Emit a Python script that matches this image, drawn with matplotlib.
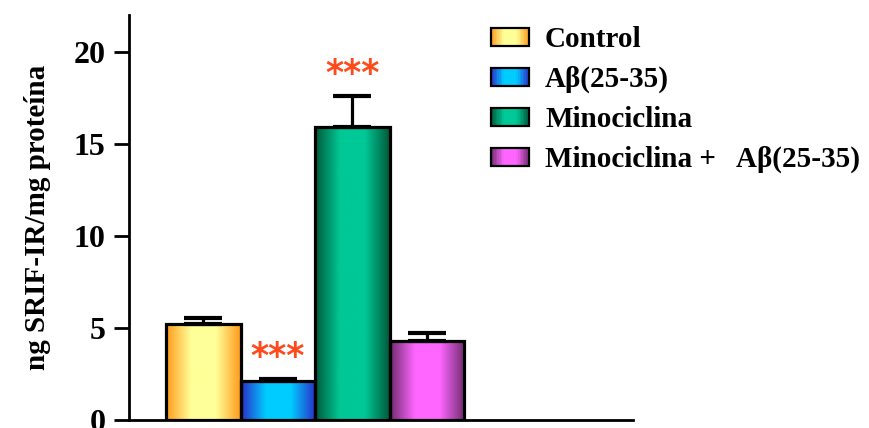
import numpy as np
import matplotlib
matplotlib.use("Agg")
import matplotlib.pyplot as plt
from matplotlib.colors import LinearSegmentedColormap
from matplotlib.patches import Rectangle
from matplotlib.legend_handler import HandlerBase

# SRIF-IR content per group
groups = ["Control", "Aβ(25-35)", "Minociclina", "Minociclina +   Aβ(25-35)"]
means = [5.2, 2.1, 15.9, 4.3]
sems = [0.35, 0.1, 1.7, 0.4]
signif = ["", "***", "***", ""]

# edge / centre colours of the horizontal shading on each bar
edge_cols = ["#ff9a1a", "#2c2cc8", "#00583a", "#6e2c6e"]
mid_cols = ["#ffff99", "#00ccff", "#00c896", "#ff66ff"]

plt.rcParams["font.family"] = ["Liberation Serif", "DejaVu Serif"]
plt.rcParams["font.weight"] = "bold"


def shade_cmap(c0, c1):
    return LinearSegmentedColormap.from_list("s", [c0, c1, c1, c0], N=256)


fig = plt.figure(figsize=(8.69, 4.28), dpi=100)
ax = fig.add_axes([0.1484, 0.0187, 0.58, 0.9463])

x = np.arange(len(means))
bars = ax.bar(x, means, width=1.0, color="none", edgecolor="black",
              linewidth=2.3, zorder=3)

grad = np.linspace(0, 1, 256).reshape(1, -1)
for b, c0, c1 in zip(bars, edge_cols, mid_cols):
    x0, w, h = b.get_x(), b.get_width(), b.get_height()
    im = ax.imshow(grad, cmap=shade_cmap(c0, c1), aspect="auto",
                   extent=[x0, x0 + w, 0, h], zorder=2)
    im.set_clip_path(b)

ax.errorbar(x, means, yerr=[np.zeros(len(sems)), sems], fmt="none",
            ecolor="black", elinewidth=2.3, capsize=13.5, capthick=3, zorder=4)

for xi, m, s, lab in zip(x, means, sems, signif):
    if lab:
        ax.text(xi, m + s + 1.2, lab, ha="center", va="center",
                color="#ff4a1c", fontsize=25, fontweight="bold",
                family="DejaVu Sans")

ax.set_xlim(-1.0, 5.77)
ax.set_ylim(0, 22)
ax.set_yticks([0, 5, 10, 15, 20])
ax.set_xticks([])
ax.tick_params(axis="y", length=11, width=2, labelsize=23, pad=6)
for t in ax.get_yticklabels():
    t.set_fontweight("bold")
for side in ["top", "right"]:
    ax.spines[side].set_visible(False)
for side in ["left", "bottom"]:
    ax.spines[side].set_linewidth(2)
ax.spines["left"].set_zorder(5)
ax.spines["bottom"].set_zorder(5)
ax.set_ylabel("ng SRIF-IR/mg proteína", fontsize=21, fontweight="bold",
              labelpad=16)


class ShadedHandle:
    def __init__(self, c0, c1):
        self.c0, self.c1 = c0, c1


class ShadedHandler(HandlerBase):
    def create_artists(self, legend, orig_handle, xdescent, ydescent,
                       width, height, fontsize, trans):
        cmap = shade_cmap(orig_handle.c0, orig_handle.c1)
        n = 24
        arts = []
        for i in range(n):
            arts.append(Rectangle((-xdescent + width * i / n, -ydescent),
                                  width / n * 1.05, height,
                                  facecolor=cmap((i + 0.5) / n),
                                  edgecolor="none", transform=trans))
        arts.append(Rectangle((-xdescent, -ydescent), width, height,
                              facecolor="none", edgecolor="black",
                              linewidth=1.6, transform=trans))
        return arts


handles = [ShadedHandle(c0, c1) for c0, c1 in zip(edge_cols, mid_cols)]
leg = fig.legend(handles, groups,
                 handler_map={ShadedHandle: ShadedHandler()},
                 loc="upper left", bbox_to_anchor=(0.535, 1.0),
                 frameon=False, handlelength=1.3, handleheight=0.55,
                 handletextpad=0.55, labelspacing=0.44,
                 prop={"size": 21, "weight": "bold"})

fig.savefig("out.png", dpi=100)
